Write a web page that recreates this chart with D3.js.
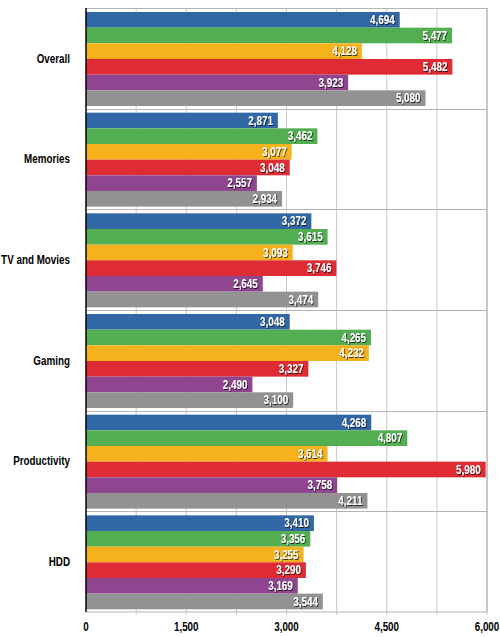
<!DOCTYPE html>
<html>
<head>
<meta charset="utf-8">
<script src="https://cdn.jsdelivr.net/npm/d3@7"></script>
<style>
  html, body { margin: 0; padding: 0; background: #fff; }
  svg { display: block; }
  .lbl { font-family: "Liberation Sans", Arial, sans-serif; font-weight: bold; }
</style>
</head>
<body>
<script>
const categories = ["Overall", "Memories", "TV and Movies", "Gaming", "Productivity", "HDD"];
const seriesNames = ["Series 1", "Series 2", "Series 3", "Series 4", "Series 5", "Series 6"];
const seriesColors = ["#3267a5", "#52ae51", "#f6b21d", "#df2b34", "#8f458f", "#929292"];
const series1 = [4694, 2871, 3372, 3048, 4268, 3410];
const series2 = [5477, 3462, 3615, 4265, 4807, 3356];
const series3 = [4128, 3077, 3093, 4232, 3614, 3255];
const series4 = [5482, 3048, 3746, 3327, 5980, 3290];
const series5 = [3923, 2557, 2645, 2490, 3758, 3169];
const series6 = [5080, 2934, 3474, 3100, 4211, 3544];
const allSeries = [series1, series2, series3, series4, series5, series6];
const xTicks = [0, 1500, 3000, 4500, 6000];
const gridTicks = [0, 750, 1500, 2250, 3000, 3750, 4500, 5250, 6000];

const W = 500, H = 637;
const mLeft = 86, mRight = 487, mTop = 8, mBottom = 612;
const squeeze = 0.82;

const svg = d3.select("body").append("svg").attr("width", W).attr("height", H);

const defs = svg.append("defs");
const f = defs.append("filter").attr("id", "sh").attr("x", "-20%").attr("y", "-30%").attr("width", "150%").attr("height", "170%");
f.append("feDropShadow").attr("dx", 1).attr("dy", 1).attr("stdDeviation", 0.7).attr("flood-color", "#000").attr("flood-opacity", 0.75);

const x = d3.scaleLinear().domain([0, 6000]).range([mLeft, mRight]);
const y = d3.scaleBand().domain(categories).range([mTop, mBottom]).padding(0);
const yInner = d3.scaleBand().domain(seriesNames).range([4, y.bandwidth() - 2.7]).padding(0);

// vertical gridlines
svg.append("g").selectAll("line").data(gridTicks.slice(1)).join("line")
  .attr("x1", d => x(d)).attr("x2", d => x(d))
  .attr("y1", mTop).attr("y2", mBottom + 3)
  .attr("stroke", "#c9c9c9").attr("stroke-width", 1);

// horizontal separators between categories
svg.append("g").selectAll("line").data(categories).join("line")
  .attr("x1", mLeft).attr("x2", mRight)
  .attr("y1", d => Math.round(y(d)) + 0.5).attr("y2", d => Math.round(y(d)) + 0.5)
  .attr("stroke", "#b4b4b4").attr("stroke-width", 1);

// frame right & bottom
svg.append("line").attr("x1", mRight).attr("x2", mRight).attr("y1", mTop).attr("y2", mBottom)
  .attr("stroke", "#b4b4b4").attr("stroke-width", 1.2);
svg.append("line").attr("x1", mLeft).attr("x2", mRight).attr("y1", mBottom).attr("y2", mBottom)
  .attr("stroke", "#b4b4b4").attr("stroke-width", 1.2);

// bars
const rows = [];
categories.forEach((c, i) => {
  allSeries.forEach((s, j) => rows.push({ cat: c, ser: seriesNames[j], color: seriesColors[j], v: s[i] }));
});

svg.append("g").selectAll("rect").data(rows).join("rect")
  .attr("x", x(0))
  .attr("y", d => y(d.cat) + yInner(d.ser))
  .attr("width", d => x(d.v) - x(0))
  .attr("height", yInner.bandwidth())
  .attr("fill", d => d.color);

// value labels
svg.append("g").selectAll("g").data(rows).join("g")
  .attr("transform", d => `translate(${x(d.v) - 5},${y(d.cat) + yInner(d.ser) + yInner.bandwidth() / 2}) scale(${squeeze},1)`)
  .attr("filter", "url(#sh)")
  .append("text")
  .attr("class", "lbl")
  .attr("dy", "0.36em")
  .attr("text-anchor", "end")
  .attr("font-size", 12)
  .attr("fill", "#fff")
  .text(d => d3.format(",")(d.v));

// left axis line
svg.append("line").attr("x1", mLeft).attr("x2", mLeft).attr("y1", mTop).attr("y2", mBottom)
  .attr("stroke", "#000").attr("stroke-width", 1.5);

// category labels
svg.append("g").selectAll("text").data(categories).join("text")
  .attr("class", "lbl")
  .attr("transform", d => `translate(70,${y(d) + y.bandwidth() / 2}) scale(${squeeze},1)`)
  .attr("dy", "0.36em")
  .attr("text-anchor", "end")
  .attr("font-size", 12)
  .attr("fill", "#000")
  .text(d => d);

// x tick labels
svg.append("g").selectAll("text").data(xTicks).join("text")
  .attr("class", "lbl")
  .attr("transform", d => `translate(${x(d)},631) scale(${squeeze},1)`)
  .attr("text-anchor", "middle")
  .attr("font-size", 12)
  .attr("fill", "#000")
  .text(d => d3.format(",")(d));
</script>
</body>
</html>
